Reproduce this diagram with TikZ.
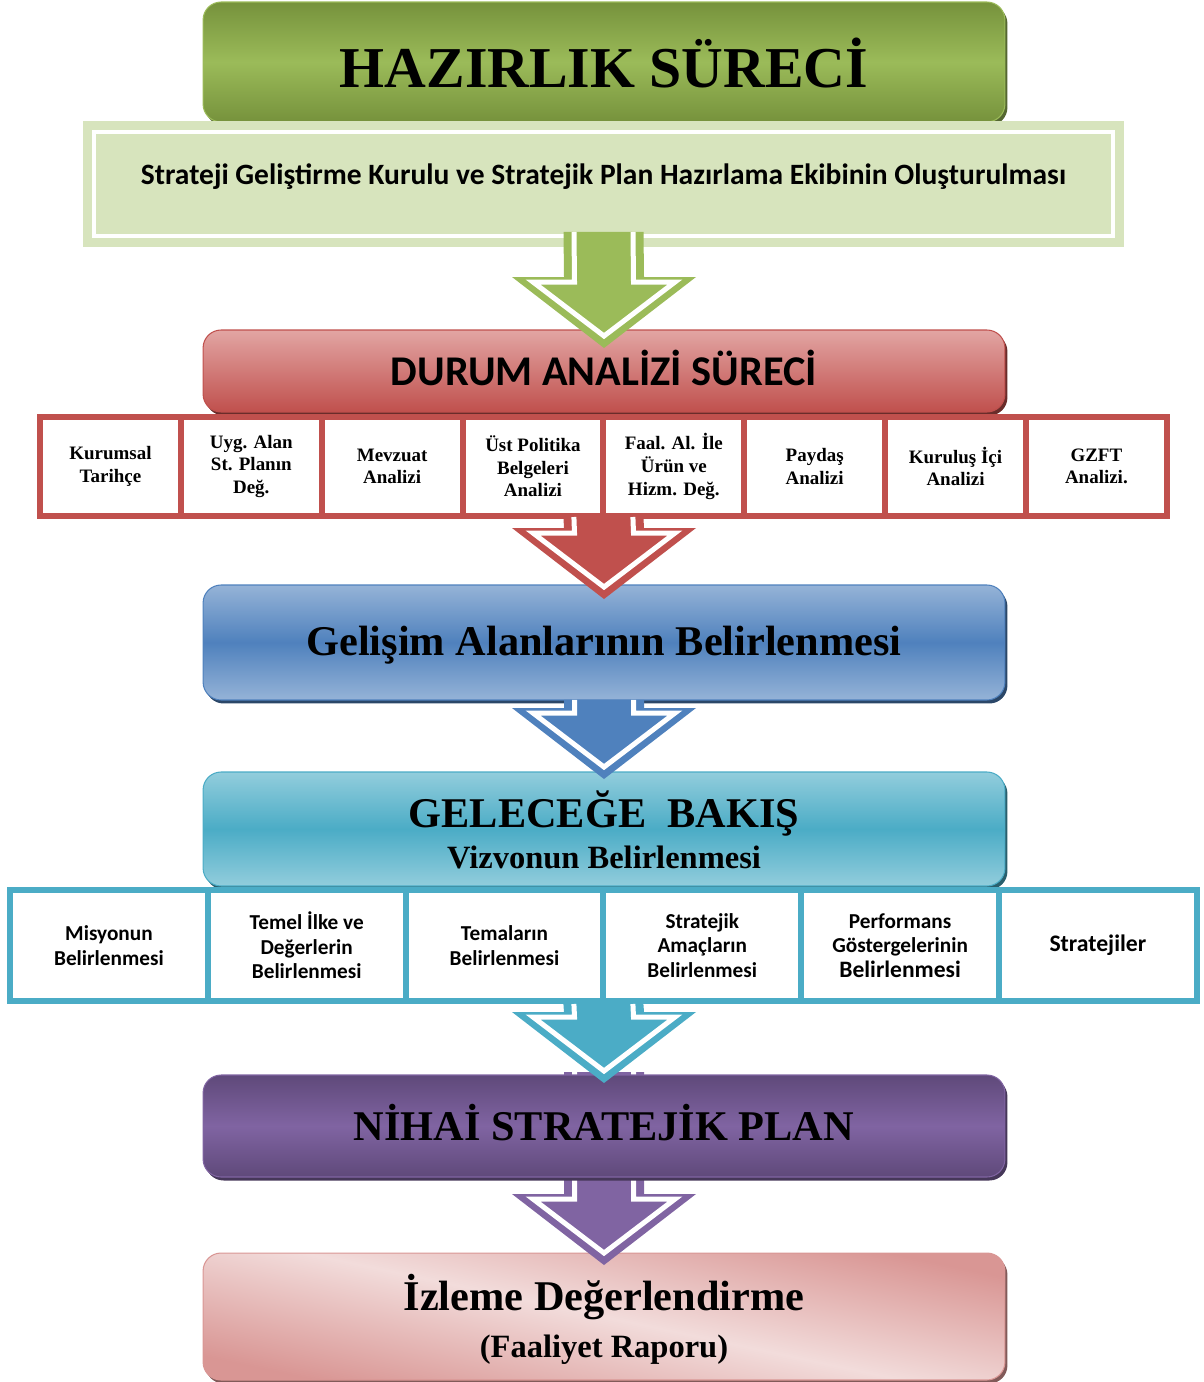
\documentclass[tikz,border=0pt]{standalone}
\usepackage{fontspec}
\setmainfont{Liberation Serif}
\newfontfamily\calib{Carlito}
\usetikzlibrary{positioning,calc}

\definecolor{hzdark}{HTML}{76923C}
\definecolor{hzlight}{HTML}{9BBB59}
\definecolor{sgklight}{HTML}{D7E4BD}
\definecolor{durred}{HTML}{C0504D}
\definecolor{durpink}{HTML}{E2A5A3}
\definecolor{gllight}{HTML}{95B3D7}
\definecolor{glmid}{HTML}{4F81BD}
\definecolor{gclight}{HTML}{92CDDC}
\definecolor{gcmid}{HTML}{4BACC6}
\definecolor{npdark}{HTML}{5F497A}
\definecolor{npmid}{HTML}{8064A2}
\definecolor{izlight}{HTML}{F2DCDB}
\definecolor{izdark}{HTML}{D99694}

% block arrow: colour, top point, tip point (units in px)
\newcommand{\blockarrow}[3]{%
  \coordinate (atop) at (#2);
  \coordinate (atip) at (#3);
  \fill[#1] ($(atop)+(-40,0)$) -- ($(atip)+(-40,-71)$) -- ($(atip)+(-92,-71)$) -- (atip)
     -- ($(atip)+(92,-71)$) -- ($(atip)+(40,-71)$) -- ($(atop)+(40,0)$) -- cycle;
  \draw[white,line width=0.1cm] ($(atop)+(-29.5,0)$) -- ($(atip)+(-29.5,-66)$) -- ($(atip)+(-71,-66)$)
     -- ($(atip)+(0,-12)$) -- ($(atip)+(71,-66)$) -- ($(atip)+(29.5,-66)$) -- ($(atop)+(29.5,0)$);
}

\begin{document}
\begin{tikzpicture}[x=0.02cm,y=-0.02cm,node distance=0pt,
    banner/.style={rounded corners=0.36cm,minimum width=16.04cm,inner sep=0pt,outer sep=0pt,line width=0.6pt},
    bandfill/.style 2 args={top color=#1,bottom color=#1,middle color=#2,draw=#2,
        preaction={fill=#2!55!black,transform canvas={xshift=0.05cm,yshift=-0.07cm}}},
    redcell/.style={draw=durred,fill=white,line width=0.12cm,minimum width=2.8175cm,minimum height=1.98cm,
        inner sep=0pt,outer sep=0pt,align=center,font=\fontsize{10.8}{12.9}\selectfont\bfseries},
    cyancell/.style={draw=gcmid,fill=white,line width=0.12cm,minimum width=3.9567cm,minimum height=2.22cm,
        inner sep=0pt,outer sep=0pt,align=center,font=\calib\fontsize{12.1}{13.9}\selectfont\bfseries},
    ttl/.style={anchor=base,inner sep=0pt,font=\fontsize{24.1}{28}\selectfont\bfseries},
    subttl/.style={anchor=base,inner sep=0pt,font=\fontsize{18.5}{22}\selectfont\bfseries}]
  \tikzstyle{sgkbox}=[fill=sgklight,draw=white,line width=0.08cm,minimum width=20.38cm,minimum height=2.08cm,
        inner sep=0pt,outer sep=0pt,preaction={draw=sgklight,line width=0.44cm}]

  \useasboundingbox (0,0) rectangle (1203,1382);

  % boxes
  \node[banner,bandfill={hzdark}{hzlight},minimum height=2.4cm] (hz) at (604,62) {};
  \node[sgkbox] (sgk) at (603.5,184) {};
  \node[banner,top color=durpink,bottom color=durred,draw=durred,minimum height=1.64cm,
        preaction={fill=durred!55!black,transform canvas={xshift=0.05cm,yshift=-0.07cm}}] (durum) at (604,371) {};

  \node[redcell] (r1) at (110.44,466.5) {Kurumsal\\Tarihçe};
  \node[redcell,right=of r1] (r2) {Uyg. Alan\\St. Planın\\Değ.};
  \node[redcell,right=of r2] (r3) {Mevzuat\\Analizi};
  \node[redcell,right=of r3] (r4) {Üst Politika\\Belgeleri\\Analizi};
  \node[redcell,right=of r4] (r5) {Faal. Al. İle\\Ürün ve\\Hizm. Değ.};
  \node[redcell,right=of r5] (r6) {Paydaş\\Analizi};
  \node[redcell,right=of r6] (r7) {Kuruluş İçi\\Analizi};
  \node[redcell,right=of r7] (r8) {GZFT\\Analizi.};

  \node[banner,bandfill={gllight}{glmid},minimum height=2.3cm] (gelisim) at (604,642.5) {};
  \node[banner,bandfill={gclight}{gcmid},minimum height=2.28cm] (gelecek) at (604,829) {};

  \node[cyancell] (c1) at (108.92,945.5) {Misyonun\\Belirlenmesi};
  \node[cyancell,right=of c1] (c2) {Temel İlke ve\\Değerlerin\\Belirlenmesi};
  \node[cyancell,right=of c2] (c3) {Temaların\\Belirlenmesi};
  \node[cyancell,right=of c3] (c4) {Stratejik\\Amaçların\\Belirlenmesi};
  \node[cyancell,right=of c4] (c5) {Performans\\Göstergelerinin\\{\fontsize{13.4}{14}\selectfont Belirlenmesi}};
  \node[cyancell,right=of c5] (c6) {{\fontsize{13.5}{14}\selectfont Stratejiler}};

  \node[banner,top color=izdark,bottom color=izdark,middle color=izlight,shading angle=-12,draw=izdark,
        minimum height=2.54cm,
        preaction={fill=izdark!60!black,transform canvas={xshift=0.05cm,yshift=-0.07cm}}] (izleme) at (604,1316.5) {};

  \coordinate (nh) at (604,1126);
  \blockarrow{npmid}{$(nh)+(0,-54)$}{$(izleme.north)+(0,12)$}
  \node[banner,bandfill={npdark}{npmid},minimum height=2.04cm] (nihai) at (nh) {};

  % arrows
  \blockarrow{hzlight}{$(sgk.south)+(0,-4)$}{$(durum.north)+(0,18)$}
  \blockarrow{durred}{$(r4.south east)+(0,1)$}{$(gelisim.north)+(0,14)$}
  \blockarrow{glmid}{gelisim.south}{$(gelecek.north)+(0,7)$}
  \blockarrow{gcmid}{$(c3.south east)+(0,3)$}{$(nihai.north)+(0,8)$}

  % texts
  \node[anchor=base,inner sep=0pt,font=\fontsize{32.9}{36}\selectfont\bfseries] (hzt) at (604,88) {HAZIRLIK SÜRECİ};
  \node[anchor=base,inner sep=0pt,font=\calib\fontsize{16.8}{20}\selectfont\bfseries] (sgkt) at (603.5,185)
        {Strateji Geliştirme Kurulu ve Stratejik Plan Hazırlama Ekibinin Oluşturulması};
  \node[anchor=base,inner sep=0pt,font=\calib\fontsize{24.1}{28}\selectfont\bfseries] (durt) at (604,385) {DURUM ANALİZİ SÜRECİ};
  \node[ttl] (gelt) at (604,655) {Gelişim Alanlarının Belirlenmesi};
  \node[ttl] (gect) at (604,827) {GELECEĞE\ \ BAKIŞ};
  \node[subttl] (vizt) at (604,868) {Vizvonun Belirlenmesi};
  \node[ttl] (niht) at (604,1140) {NİHAİ STRATEJİK PLAN};
  \node[ttl] (izt) at (604,1310) {İzleme Değerlendirme};
  \node[subttl] (fat) at (604,1357) {(Faaliyet Raporu)};
\end{tikzpicture}
\end{document}
